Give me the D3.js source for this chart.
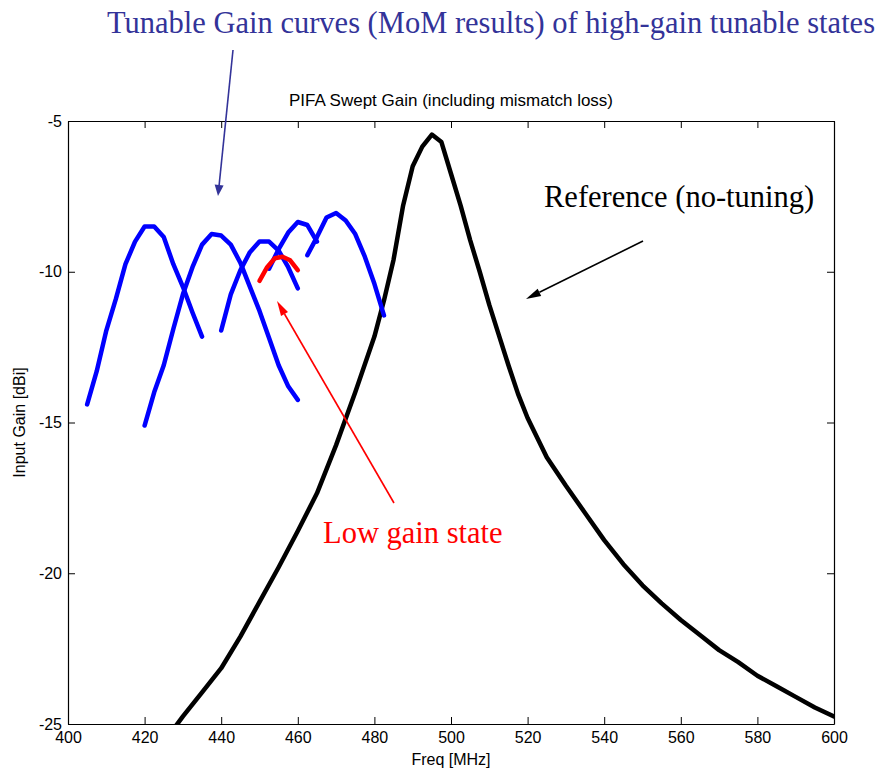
<!DOCTYPE html>
<html>
<head>
<meta charset="utf-8">
<script src="https://cdn.jsdelivr.net/npm/d3@7"></script>
<style>
  body { margin: 0; background: #fff; }
  svg { display: block; }
</style>
</head>
<body>
<div id="graph"></div>
<script>
// reference (no tuning) curve
const refFreq = [425, 430, 435, 440, 445, 450, 455, 460, 465, 470, 475, 480, 482.5, 485, 487.5, 490, 492.5, 495, 497.5,
    500, 502.5, 505, 507.5, 510, 512.5, 515, 517.5, 520, 525, 530, 535, 540, 545, 550, 555, 560, 565, 570,
    575, 580, 585, 590, 595, 600];
const refGain = [-25.6, -24.75, -23.95, -23.15, -22.1, -20.95, -19.8, -18.6, -17.35, -15.75, -14.0, -12.15, -10.95, -9.6, -7.8,
    -6.5, -5.85, -5.45, -5.7, -6.75, -7.8, -8.95, -10.0, -11.1, -12.1, -13.1, -14.05, -14.85, -16.15, -17.1,
    -18.0, -18.9, -19.7, -20.4, -21.0, -21.55, -22.05, -22.55, -22.95, -23.4, -23.75, -24.1, -24.45, -24.75];

// tunable high-gain states (MoM)
const tune1Freq = [405, 407.5, 410, 412.5, 415, 417.5, 420, 422.5, 425, 427.5, 430, 432.5, 435];
const tune1Gain = [-14.4, -13.3, -11.95, -10.9, -9.75, -9.0, -8.5, -8.5, -8.85, -9.75, -10.5, -11.35, -12.15];
const tune2Freq = [420, 422.5, 425, 427.5, 430, 432.5, 435, 437.5, 440, 442.5, 445, 447.5, 450, 452.5, 455, 457.5, 460];
const tune2Gain = [-15.1, -14.0, -13.1, -11.9, -10.75, -9.85, -9.1, -8.75, -8.8, -9.1, -9.7, -10.5, -11.3, -12.2, -13.1, -13.8, -14.25];
const tune3Freq = [440, 442.5, 445, 447.5, 450, 452.5, 455, 457.5, 460];
const tune3Gain = [-11.95, -10.75, -9.95, -9.35, -9.0, -9.0, -9.3, -9.85, -10.55];
const tune4Freq = [452.5, 455, 457.5, 460, 462.5, 465];
const tune4Gain = [-9.9, -9.25, -8.7, -8.35, -8.45, -9.0];
const tune5Freq = [462.5, 465, 467.5, 470, 472.5, 475, 477.5, 480, 482.5];
const tune5Gain = [-9.45, -8.85, -8.2, -8.05, -8.3, -8.75, -9.5, -10.4, -11.45];

// low gain state
const lowFreq = [450, 452, 454, 456, 458, 460];
const lowGain = [-10.3, -9.85, -9.55, -9.5, -9.62, -9.95];

const xTicks = [400, 420, 440, 460, 480, 500, 520, 540, 560, 580, 600];
const yTicks = [-5, -10, -15, -20, -25];

const width = 880;
const height = 771;
const m = { left: 68, right: 834, top: 121, bottom: 724 };

const svg = d3.select("#graph")
    .append("svg")
        .attr("width", width)
        .attr("height", height);

const x = d3.scaleLinear().domain([400, 600]).range([m.left, m.right]);
const y = d3.scaleLinear().domain([-25, -5]).range([m.bottom, m.top]);

const line = d3.line()
    .x(d => x(d[0]))
    .y(d => y(d[1]));

const pairs = (f, g) => f.map((v, i) => [v, g[i]]);

svg.append("defs").append("clipPath").attr("id", "plotclip")
    .append("rect")
        .attr("x", m.left).attr("y", m.top)
        .attr("width", m.right - m.left).attr("height", m.bottom - m.top);

// axes box with inward ticks on all sides
const tick = 7;
const axisFont = "'Liberation Sans', Arial, sans-serif";
const plain = d => String(d);   // matlab style hyphen minus

svg.append("g")
    .attr("transform", `translate(0,${m.bottom})`)
    .call(d3.axisBottom(x).tickValues(xTicks).tickFormat(plain).tickSizeInner(-tick).tickSizeOuter(0).tickPadding(8))
    .call(g => g.selectAll("text").attr("font-size", 16).attr("font-family", axisFont).attr("fill", "#000"));
svg.append("g")
    .attr("transform", `translate(0,${m.top})`)
    .call(d3.axisTop(x).tickValues(xTicks).tickSizeInner(-tick).tickSizeOuter(0).tickFormat(""));
svg.append("g")
    .attr("transform", `translate(${m.left},0)`)
    .call(d3.axisLeft(y).tickValues(yTicks).tickFormat(plain).tickSizeInner(-tick).tickSizeOuter(0).tickPadding(6))
    .call(g => g.selectAll("text").attr("font-size", 16).attr("font-family", axisFont).attr("fill", "#000"));
svg.append("g")
    .attr("transform", `translate(${m.right},0)`)
    .call(d3.axisRight(y).tickValues(yTicks).tickSizeInner(-tick).tickSizeOuter(0).tickFormat(""));

svg.selectAll(".domain").attr("stroke", "#000").attr("stroke-width", 1.2);
svg.selectAll(".tick line").attr("stroke", "#000");

// curves
const plot = svg.append("g").attr("clip-path", "url(#plotclip)");

const drawLine = (data, color) => {
    plot.append("path")
        .datum(data)
        .attr("fill", "none")
        .attr("stroke", color)
        .attr("stroke-width", 4.5)
        .attr("stroke-linejoin", "round")
        .attr("stroke-linecap", "round")
        .attr("d", line);
};

drawLine(pairs(refFreq, refGain), "#000");
[[tune1Freq, tune1Gain], [tune2Freq, tune2Gain], [tune3Freq, tune3Gain],
 [tune4Freq, tune4Gain], [tune5Freq, tune5Gain]].forEach(c => drawLine(pairs(c[0], c[1]), "#0000ff"));
drawLine(pairs(lowFreq, lowGain), "#ff0000");

// titles
svg.append("text")
    .attr("x", (m.left + m.right) / 2).attr("y", 106)
    .attr("text-anchor", "middle")
    .attr("font-family", axisFont).attr("font-size", 17)
    .text("PIFA Swept Gain (including mismatch loss)");
svg.append("text")
    .attr("x", (m.left + m.right) / 2).attr("y", 765)
    .attr("text-anchor", "middle")
    .attr("font-family", axisFont).attr("font-size", 16)
    .text("Freq [MHz]");
svg.append("text")
    .attr("transform", `translate(25,${(m.top + m.bottom) / 2}) rotate(-90)`)
    .attr("text-anchor", "middle")
    .attr("font-family", axisFont).attr("font-size", 16)
    .text("Input Gain [dBi]");

// annotations
const serif = "'Liberation Serif', 'Times New Roman', serif";

const arrow = (x1, y1, x2, y2, color, headLen, headW, sw) => {
    const a = Math.atan2(y2 - y1, x2 - x1);
    const bx = x2 - headLen * Math.cos(a), by = y2 - headLen * Math.sin(a);
    svg.append("line")
        .attr("x1", x1).attr("y1", y1).attr("x2", bx).attr("y2", by)
        .attr("stroke", color).attr("stroke-width", sw);
    const px = -Math.sin(a) * headW / 2, py = Math.cos(a) * headW / 2;
    svg.append("path")
        .attr("d", `M${x2},${y2}L${bx + px},${by + py}L${bx - px},${by - py}Z`)
        .attr("fill", color);
};

svg.append("text")
    .attr("x", 107).attr("y", 33)
    .attr("font-family", serif).attr("font-size", 30.5)
    .attr("fill", "#333399")
    .text("Tunable Gain curves (MoM results) of high-gain tunable states");
arrow(233, 50, 218, 196, "#333399", 11, 9, 1.6);

svg.append("text")
    .attr("x", 544).attr("y", 207)
    .attr("font-family", serif).attr("font-size", 30.5)
    .attr("fill", "#000")
    .text("Reference (no-tuning)");
arrow(643, 241, 526, 299, "#000", 15, 8, 1.6);

svg.append("text")
    .attr("x", 323).attr("y", 543)
    .attr("font-family", serif).attr("font-size", 30.5)
    .attr("fill", "#ff0000")
    .text("Low gain state");
arrow(394, 503, 277, 301, "#ff0000", 15, 8, 1.6);
</script>
</body>
</html>
